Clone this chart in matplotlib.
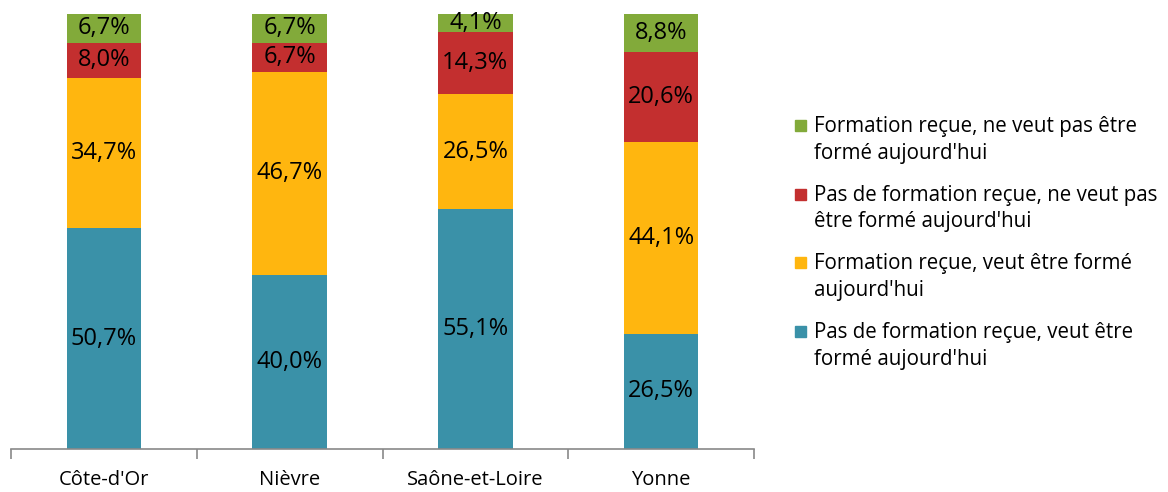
import matplotlib
matplotlib.use("Agg")
import matplotlib.pyplot as plt
from matplotlib.patches import Rectangle
import numpy as np

categories = ["Côte-d'Or", "Nièvre", "Saône-et-Loire", "Yonne"]
pas_form_veut = [50.7, 40.0, 55.1, 26.5]
form_veut = [34.7, 46.7, 26.5, 44.1]
pas_form_neveut = [8.0, 6.7, 14.3, 20.6]
form_neveut = [6.7, 6.7, 4.1, 8.8]

series = [
    ("Pas de formation reçue, veut être\nformé aujourd'hui", pas_form_veut, "#3A91A8"),
    ("Formation reçue, veut être formé\naujourd'hui", form_veut, "#FFB60F"),
    ("Pas de formation reçue, ne veut pas\nêtre formé aujourd'hui", pas_form_neveut, "#C32F2F"),
    ("Formation reçue, ne veut pas être\nformé aujourd'hui", form_neveut, "#82AA3A"),
]

plt.rcParams['font.family'] = ['Open Sans', 'DejaVu Sans']
W, H = 1168, 492
fig = plt.figure(figsize=(W / 100, H / 100), dpi=100)
ax = fig.add_axes([11/W, 43/H, (754-11)/W, (449-14)/H])

x = np.arange(len(categories))
bottom = np.zeros(len(categories))
for label, vals, color in series:
    vals = np.array(vals)
    ax.bar(x, vals, width=0.4, bottom=bottom, color=color, label=label)
    for xi, v, bt in zip(x, vals, bottom):
        ax.text(xi, bt + v / 2, f"{v:.1f}%".replace(".", ","), ha="center", va="center",
                fontsize=17, color="black")
    bottom += vals

ax.set_xlim(-0.5, len(categories) - 0.5)
ax.set_ylim(0, 100)
ax.set_yticks([])
for s in ["top", "right", "left"]:
    ax.spines[s].set_visible(False)
ax.spines["bottom"].set_color("#898989")
ax.spines["bottom"].set_linewidth(1.2)
ax.set_xticks(x)
ax.set_xticklabels(categories, fontsize=14.5)
ax.tick_params(axis="x", which="major", length=0, pad=15)
ax.set_xticks(np.arange(-0.5, len(categories)), minor=True)
ax.tick_params(axis="x", which="minor", length=7, width=1.2, color="#898989", direction="out")

# Legend (reversed order, square marker aligned to first line)
first_line_y = 125
entry_step = 68.7
for i, (label, vals, color) in enumerate(series[::-1]):
    yc = first_line_y + i * entry_step
    fig.add_artist(Rectangle((795 / W, 1 - (yc + 6) / H), 11 / W, 11 / H,
                             transform=fig.transFigure, color=color))
    fig.text(814 / W, 1 - (yc - 9) / H, label, ha="left", va="top",
             fontsize=14.8, linespacing=1.35)

fig.savefig("out.png", dpi=100)
